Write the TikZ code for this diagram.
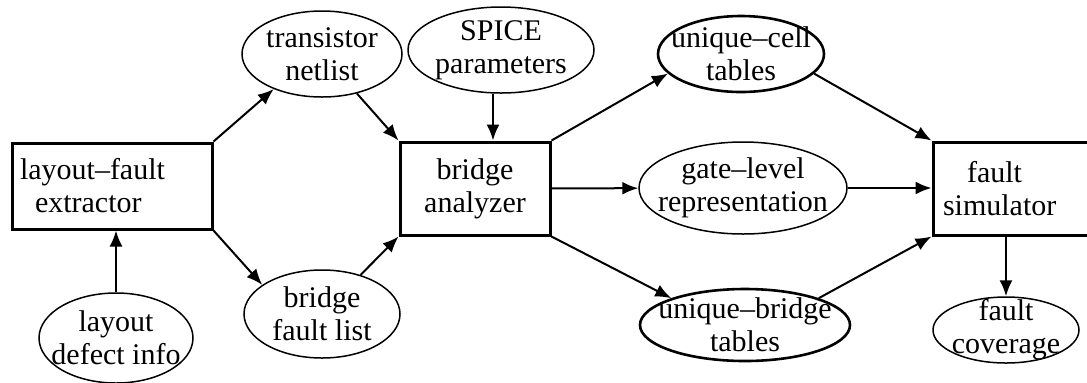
\documentclass[tikz,border=0pt]{standalone}
\usepackage{fontspec}
\setmainfont{Liberation Serif}
\usetikzlibrary{shapes.geometric,arrows.meta}

\begin{document}
\begin{tikzpicture}[x=0.5pt,y=-0.5pt,
        every node/.style={font=\fontsize{15}{16.5}\selectfont,align=center},
        blk/.style={draw,line width=1.5pt,inner sep=0pt},
        oval/.style={draw,ellipse,line width=0.75pt,inner sep=-12pt},
        boldoval/.style={oval,line width=1.3pt},
        flow/.style={line width=1pt,-{Latex[length=8pt,width=6.5pt]}}]
            \useasboundingbox ( 0,0 ) rectangle ( 1087,382 );
            \clip ( 0,0 ) rectangle ( 1087,382 );
            % boxes
            \node [blk,minimum width=100pt,minimum height=43pt,align=left,inner xsep=4pt,text width=92pt] (extractor) at ( 112,186 ) {layout--fault\\\hspace*{7.5pt}extractor};
            \node [blk,minimum width=75pt,minimum height=46.5pt] (analyzer) at ( 475,188.5 ) {bridge\\analyzer};
            \node [blk,minimum width=83pt,minimum height=46.5pt,align=left,inner xsep=5pt,text width=73pt] (simulator) at ( 1016,188.5 ) {\hspace*{12pt}fault\\simulator};
            % data
            \node [oval,minimum width=77pt,minimum height=45pt] (defect) at ( 116,338 ) {layout\\defect info};
            \node [oval,minimum width=80pt,minimum height=43pt] (netlist) at ( 322,54 ) {transistor\\netlist};
            \node [oval,minimum width=93pt,minimum height=43pt] (spice) at ( 501,50 ) {SPICE\\parameters};
            \node [oval,minimum width=78pt,minimum height=44pt] (faultlist) at ( 322,314 ) {bridge\\fault list};
            \node [boldoval,minimum width=83pt,minimum height=38pt] (celltab) at ( 741,54 ) {unique--cell\\tables};
            \node [oval,minimum width=104pt,minimum height=46pt] (gatelevel) at ( 743,188 ) {gate--level\\representation};
            \node [boldoval,minimum width=105pt,minimum height=36pt] (bridgetab) at ( 745,325 ) {unique--bridge\\tables};
            \node [oval,minimum width=73pt,minimum height=33pt] (coverage) at ( 1006,330 ) {fault\\coverage};
            % connectors
            \draw [flow] (defect) -- (defect |- extractor.south);
            \draw [flow] (extractor.north east) -- (netlist.216);
            \draw [flow] (extractor.south east) -- (faultlist.154);
            \draw [flow] (netlist) -- (analyzer.north west);
            \draw [flow] (spice.south -| 493,0) -- (analyzer.north -| 493,0);
            \draw [flow] (faultlist) -- (analyzer.south west);
            \draw [flow] (analyzer.north east) -- (celltab.195);
            \draw [flow] (analyzer) -- (gatelevel);
            \draw [flow] (analyzer.south east) -- (bridgetab.160);
            \draw [flow] (celltab.345) -- (simulator.north west);
            \draw [flow] (gatelevel.east) -- (gatelevel.east -| simulator.west);
            \draw [flow] (bridgetab.20) -- (simulator.south west);
            \draw [flow] (coverage.north |- simulator.south) -- (coverage.north);
        \end{tikzpicture}
\end{document}
